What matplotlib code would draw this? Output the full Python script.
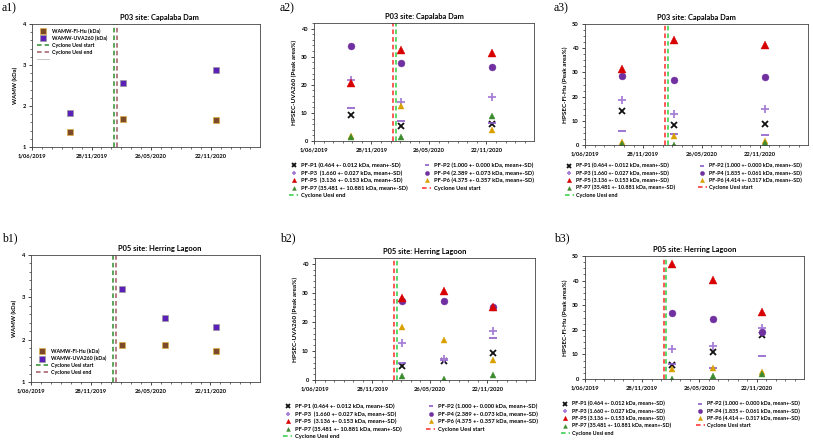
import matplotlib
matplotlib.use("Agg")
import matplotlib.pyplot as plt
import matplotlib.dates as mdates
from matplotlib.lines import Line2D
import numpy as np
import datetime as dt

plt.rcParams['font.family'] = ['Lato', 'DejaVu Sans']

# ---------------- data ----------------
site_a_title = "P03 site: Capalaba Dam"
site_b_title = "P05 site: Herring Lagoon"
dates_a = ["2019-09-24", "2020-03-01", "2020-12-09"]
dates_b = ["2020-03-01", "2020-07-08", "2020-12-09"]
cyclone_start = "2020-02-03"
cyclone_end = "2020-02-12"
tick_dates = ["2019-06-01", "2019-11-28", "2020-05-26", "2020-11-22"]
tick_labels = ["1/06/2019", "28/11/2019", "26/05/2020", "22/11/2020"]

wamw_flhu_a = [1.36, 1.68, 1.66]
wamw_uva_a = [1.83, 2.56, 2.88]
wamw_flhu_b = [1.88, 1.88, 1.73]
wamw_uva_b = [3.20, 2.52, 2.31]

# HPSEC-UVA260 peak area %, rows P1..P7
uva_a = [[9.1, 5.3, 5.9],
         [11.7, 7.0, 6.5],
         [21.7, 14.0, 15.6],
         [33.7, 27.7, 26.4],
         [20.5, 32.3, 31.2],
         [1.9, 12.3, 3.8],
         [1.3, 1.3, 9.0]]
uva_b = [[4.8, 6.4, 9.3],
         [5.9, 7.0, 14.5],
         [12.8, 7.3, 16.7],
         [27.3, 27.2, 25.2],
         [28.2, 30.7, 25.3],
         [18.3, 13.8, 7.0],
         [1.5, 0.3, 1.8]]
# HPSEC-Fl-Hu peak area %
flhu_a = [[14.2, 8.4, 8.7],
          [5.8, 4.4, 4.3],
          [18.8, 13.0, 14.9],
          [28.5, 26.8, 28.2],
          [31.2, 43.2, 41.4],
          [1.4, 3.9, 1.8],
          [0.3, 0.2, 0.8]]
flhu_b = [[5.7, 10.8, 17.8],
          [6.3, 4.6, 9.3],
          [12.3, 13.5, 20.9],
          [26.7, 24.4, 19.0],
          [46.9, 40.4, 27.4],
          [4.2, 4.6, 3.0],
          [0.1, 1.2, 2.0]]

uva_labels = ["PF-P1 (0.464 +- 0.012 kDa, mean+-SD)",
              "PF-P2 (1.000 +- 0.000 kDa, mean+-SD)",
              "PF-P3  (1.660 +- 0.027 kDa, mean+-SD)",
              "PF-P4 (2.389 +- 0.073 kDa, mean+-SD)",
              "PF-P5  (3.136 +- 0.153 kDa, mean+-SD)",
              "PF-P6 (4.375 +- 0.357 kDa, mean+-SD)",
              "PF-P7 (35.481 +- 10.881 kDa, mean+-SD)"]
flhu_labels = ["PF-P1 (0.464 +- 0.012 kDa, mean+-SD)",
               "PF-P2 (1.000 +- 0.000 kDa, mean+-SD)",
               "PF-P3 (1.660 +- 0.027 kDa, mean+-SD)",
               "PF-P4 (1.835 +- 0.061 kDa, mean+-SD)",
               "PF-P5 (3.136 +- 0.153 kDa, mean+-SD)",
               "PF-P6 (4.414 +- 0.317 kDa, mean+-SD)",
               "PF-P7 (35.481 +- 10.881 kDa, mean+-SD)"]

# ---------------- styles ----------------
pf_styles = [
    dict(marker='x', color='#111111', ms=3.8, mew=1.3),
    dict(marker='_', color='#8e5cc8', ms=5.5, mew=1.2),
    dict(marker='+', color='#a77fd6', ms=5.5, mew=1.3),
    dict(marker='o', color='#7030a0', ms=5.0, mew=0.3),
    dict(marker='^', color='#d80000', ms=5.2, mew=0.3),
    dict(marker='^', color='#d9a000', ms=5.0, mew=0.3),
    dict(marker='^', color='#3d8b2f', ms=4.6, mew=0.3),
]

W, H = 813, 441
fig = plt.figure(figsize=(W / 100, H / 100), dpi=100)
renderer = fig.canvas.get_renderer()


def ax_px(l, r, t, b):
    return fig.add_axes([l / W, 1 - b / H, (r - l) / W, (b - t) / H])


def d(s):
    return mdates.date2num(dt.datetime.strptime(s, "%Y-%m-%d"))


def size_for_width(text, target_px):
    t = fig.text(0, 0, text, fontsize=10, fontweight='bold')
    w = t.get_window_extent(renderer).width
    t.remove()
    return 10 * target_px / w


TF = size_for_width("1/06/2019", 29)
TITLE_A = size_for_width(site_a_title, 79)
YL_W = size_for_width("WAMW (kDa)", 37)
YL_P = size_for_width("HPSEC-UVA260 (Peak area%)", 86)
LEG_W = size_for_width("WAMW-UVA260 (kDa)", 55)


def style_axis(ax, ylo, yhi, ymaj, ymin):
    ax.set_xlim(d("2019-06-01"), d("2021-04-20"))
    ax.set_xticks([d(s) for s in tick_dates])
    ax.set_xticklabels(tick_labels, fontsize=TF, fontweight='bold')
    ax.set_xticks(np.arange(d("2019-06-01"), d("2021-04-20"), 30), minor=True)
    ax.set_ylim(ylo, yhi)
    ax.set_yticks(np.arange(ylo, yhi + 0.01, ymaj)[:int(round((yhi - ylo) // ymaj)) + 1])
    ax.set_yticks(np.arange(ylo, yhi + 0.001, ymin), minor=True)
    for lab in ax.get_yticklabels():
        lab.set_fontsize(TF)
        lab.set_fontweight('bold')
    ax.tick_params(which='major', length=2.5, width=0.5, pad=2, direction='out')
    ax.tick_params(which='minor', length=1.5, width=0.4, direction='out')
    for sp in ax.spines.values():
        sp.set_linewidth(0.6)
        sp.set_color('#444444')


def wamw_panel(ax, dates, flhu, uva, title, legend_loc):
    x = [d(s) for s in dates]
    ax.plot(x, flhu, ls='none', marker='s', ms=5.0, mfc='#7b4a2a', mec='#e0b040', mew=0.5,
            label='WAMW-Fl-Hu (kDa)')
    ax.plot(x, uva, ls='none', marker='s', ms=5.0, mfc='#5a20b8', mec='#9a9a9a', mew=0.5,
            label='WAMW-UVA260 (kDa)')
    ax.axvline(d(cyclone_start), color='#2e8b2e', ls=(0, (3, 2)), lw=1.1, label='Cyclone Uesi start')
    ax.axvline(d(cyclone_end), color='#a25a66', ls=(0, (3, 2)), lw=1.1, label='Cyclone Uesi end')
    style_axis(ax, 1, 4, 1, 0.2)
    ax.set_ylabel('WAMW (kDa)', fontsize=YL_W, fontweight='bold', labelpad=3)
    ax.set_title(title, fontsize=TITLE_A, fontweight='bold', pad=3, x=0.56)
    handles, labels = ax.get_legend_handles_labels()
    kw = dict(frameon=False, handlelength=2.2, handletextpad=0.7, labelspacing=0.35,
              borderaxespad=0.2, markerscale=0.8, prop=dict(size=LEG_W, weight='bold'))
    if legend_loc == 'upper left':
        handles.append(Line2D([], [], color='#bbbbbb', lw=0.6))
        labels.append('')
        ax.legend(handles, labels, loc='upper left', bbox_to_anchor=(0.01, 0.99), **kw)
    else:
        ax.legend(handles, labels, loc='lower left', bbox_to_anchor=(0.01, 0.03), **kw)


def pf_panel(ax, dates, values, labels, title, ylabel, ytop, col1_x, col2_x, leg_y, text_w):
    x = [d(s) for s in dates]
    hs = []
    for vals, st, lab in zip(values, pf_styles, labels):
        h, = ax.plot(x, vals, ls='none', marker=st['marker'], ms=st['ms'], color=st['color'],
                     mfc=st['color'], mec=st['color'], mew=st['mew'], label=lab)
        hs.append(h)
    hstart = ax.axvline(d(cyclone_start), color='#ff2a2a', ls=(0, (3, 2)), lw=1.1,
                        label='Cyclone Uesi start')
    hend = ax.axvline(d(cyclone_end), color='#2ecc40', ls=(0, (3, 2)), lw=1.1,
                      label='Cyclone Uesi end')
    style_axis(ax, 0, ytop, 10, 2 if ytop < 45 else 2.5)
    ax.set_ylabel(ylabel, fontsize=YL_P, fontweight='bold', labelpad=3)
    ax.set_title(title, fontsize=TITLE_A, fontweight='bold', pad=3)
    lfs = size_for_width(labels[0], text_w)
    kw = dict(loc='upper left', frameon=False, handlelength=1.6, handletextpad=0.4,
              labelspacing=0.36, borderaxespad=0, borderpad=0, markerscale=0.6,
              prop=dict(size=lfs, weight='bold'))
    col1 = [hs[0], hs[2], hs[4], hs[6], hend]
    col2 = [hs[1], hs[3], hs[5], hstart]
    fig.legend(col1, [h.get_label() for h in col1],
               bbox_to_anchor=(col1_x / W, 1 - leg_y / H), **kw)
    fig.legend(col2, [h.get_label() for h in col2],
               bbox_to_anchor=(col2_x / W, 1 - leg_y / H), **kw)


a1 = ax_px(32, 260, 24, 147)
a2 = ax_px(314, 534, 23, 141)
a3 = ax_px(585, 808, 24, 145)
b1 = ax_px(31, 260, 255, 382)
b2 = ax_px(315, 535, 258, 380)
b3 = ax_px(585, 804, 256, 379)

wamw_panel(a1, dates_a, wamw_flhu_a, wamw_uva_a, site_a_title, 'upper left')
wamw_panel(b1, dates_b, wamw_flhu_b, wamw_uva_b, site_b_title, 'lower left')

pf_panel(a2, dates_a, uva_a, uva_labels, site_a_title, 'HPSEC-UVA260 (Peak area%)', 42,
         289, 422, 163, 100)
pf_panel(a3, dates_a, flhu_a, flhu_labels, site_a_title, 'HPSEC-Fl-Hu (Peak area%)', 50,
         565, 698, 163, 94)
pf_panel(b2, dates_b, uva_b, uva_labels, site_b_title, 'HPSEC-UVA260 (Peak area%)', 42,
         283, 426, 404, 100)
pf_panel(b3, dates_b, flhu_b, flhu_labels, site_b_title, 'HPSEC-Fl-Hu (Peak area%)', 50,
         561, 696, 401, 94)

for txt, x, y in [("a1)", 2, 2), ("a2)", 280, 2), ("a3)", 554, 2),
                  ("b1)", 2, 232), ("b2)", 280, 232), ("b3)", 554, 232)]:
    fig.text(x / W, 1 - y / H, txt, fontsize=8.5, family='Liberation Serif', va='top', ha='left')

fig.savefig("out.png", dpi=100)
